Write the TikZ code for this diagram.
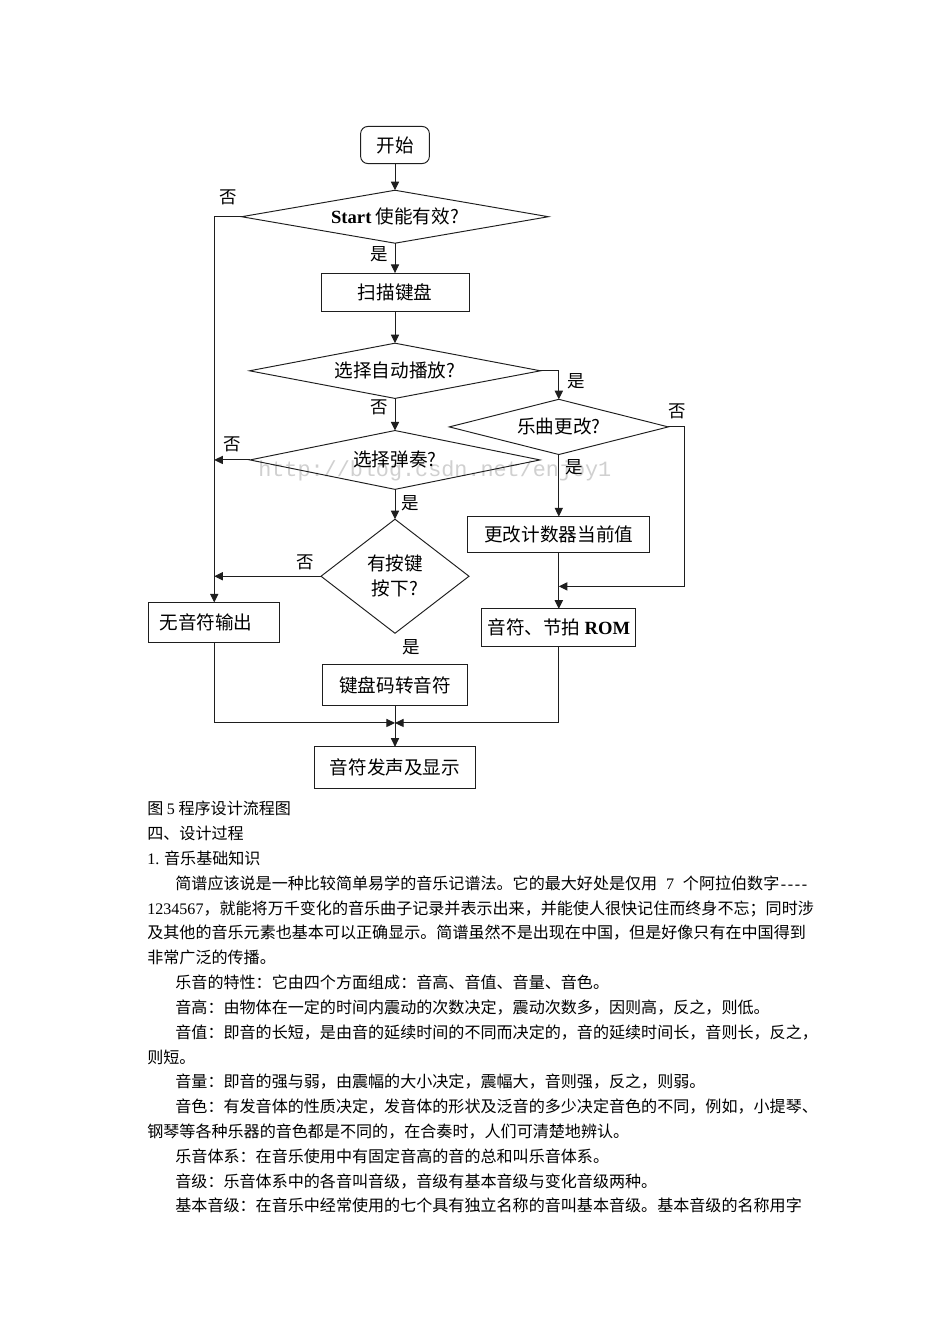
\documentclass[tikz,border=0pt]{standalone}
\usepackage{fontspec}
\setmainfont{Noto Sans CJK SC}
\newfontfamily\tms{Liberation Serif}
\newfontfamily\wmfont{Liberation Mono}
\usepackage{tikz}
\usetikzlibrary{shapes.geometric, arrows.meta, positioning, calc}
\definecolor{flow-line}{RGB}{30,30,30}
\definecolor{wm-gray}{RGB}{208,208,208}
\XeTeXlinebreaklocale "zh"
\XeTeXlinebreakskip=0pt plus 1pt minus 0.4pt
\newcommand{\fullline}[2][0mm]{\hspace*{#1}\makebox[\dimexpr145.4mm-#1\relax][s]{#2}}

\begin{document}
\begin{tikzpicture}[
    x=0.221mm, y=-0.221mm,
    >={Triangle[length=1.9mm,width=1.8mm]},
    flow/.style={draw=flow-line, line width=0.6pt},
    startbox/.style={rectangle, draw=flow-line, line width=0.6pt, rounded corners=1.6mm, minimum width=15.2mm, minimum height=8.2mm, inner sep=0pt, outer sep=0pt, font=\fontsize{11.7pt}{14pt}\selectfont},
    procbox/.style={rectangle, draw=flow-line, line width=0.6pt, inner sep=0pt, outer sep=0pt, font=\fontsize{11.7pt}{14pt}\selectfont},
    decision/.style={diamond, draw=flow-line, line width=0.6pt, aspect=4, inner sep=0pt, outer sep=0pt, font=\fontsize{11.7pt}{15.7pt}\selectfont},
    yesno/.style={inner sep=0pt, font=\fontsize{11pt}{13pt}\selectfont},
]

% Page
\fill[white] (0,0) rectangle (950,1344);

% Watermark
\node[anchor=base west, inner sep=0pt, text=wm-gray, font=\wmfont\fontsize{13.7pt}{16pt}\selectfont] (wm) at (258,476) {http://blog.csdn.net/enjoy1};

% Main column
\node[startbox] (start) at (395,145) {开始};
\node[decision, minimum width=67.8mm, minimum height=11.7mm, below=5.9mm of start] (enable) {{\tms\bfseries Start} 使能有效?};
\node[procbox, minimum width=32.7mm, minimum height=8.4mm, below=6.6mm of enable] (scan) {扫描键盘};
\node[decision, minimum width=64.3mm, minimum height=12.2mm, below=7.1mm of scan] (auto) {选择自动播放?};
\node[decision, minimum width=64.1mm, minimum height=13mm, below=7.1mm of auto] (play) {选择弹奏?};
\node[decision, aspect=1.3, align=center, minimum width=32.7mm, minimum height=25.2mm, below=6.6mm of play] (key) {有按键\\按下?};
\node[procbox, minimum width=32mm, minimum height=9.1mm, below=6.9mm of key] (code) {键盘码转音符};
\node[procbox, minimum width=35.4mm, minimum height=9.1mm, below=9.1mm of code] (sound) {音符发声及显示};

% Side branches
\node[decision, minimum width=48.4mm, minimum height=12.2mm, below=0.2mm of auto, xshift=36.2mm] (change) {乐曲更改?};
\node[procbox, minimum width=40.2mm, minimum height=8mm, below=13.7mm of change] (counter) {更改计数器当前值};
\node[procbox, minimum width=34mm, minimum height=8.4mm, below=12.4mm of counter] (rom) {音符、节拍 {\tms\bfseries ROM}};
\node[procbox, minimum width=29mm, minimum height=8.8mm, text width=24.2mm, align=left, left=9.1mm of key, yshift=-10.2mm] (silent) {无音符输出};

% Junctions
\coordinate (rrail) at ($(change.east)+(3.5mm,0)$);
\coordinate (rjoin) at ($(counter.south)!0.6!(rom.north)$);
\coordinate (merge) at ($(code.south)!0.42!(sound.north)$);

% Connectors
\draw[flow, ->] (start) -- (enable);
\draw[flow, ->] (enable) -- (scan);
\draw[flow, ->] (scan) -- (auto);
\draw[flow, ->] (auto) -- (play);
\draw[flow, ->] (play) -- (key);
\draw[flow, ->] (code) -- (sound);
\draw[flow, ->] (enable.west) -| (silent.north);
\draw[flow, ->] (play.west) -- (play.west -| silent.north);
\draw[flow, ->] (key.west) -- (key.west -| silent.north);
\draw[flow, ->] (auto.east) -| (change.north);
\draw[flow, ->] (change) -- (counter);
\draw[flow, ->] (counter) -- (rom);
\draw[flow, ->] (change.east) -- (rrail) |- (rjoin);
\draw[flow, ->] (silent.south) |- (merge);
\draw[flow, ->] (rom.south) |- (merge);

% Yes / no marks
\node[yesno] (n1) at ([shift={(-2.9mm,4.2mm)}]enable.west) {否};
\node[yesno] (y1) at ([shift={(-3.5mm,-2.4mm)}]enable.south) {是};
\node[yesno] (y2) at ([shift={(3.8mm,4mm)}]change.north) {是};
\node[yesno] (n2) at ([shift={(-3.5mm,-2mm)}]auto.south) {否};
\node[yesno] (n3) at ([shift={(-4mm,3.5mm)}]play.west) {否};
\node[yesno] (n4) at ([shift={(2mm,3.5mm)}]change.east) {否};
\node[yesno] (y3) at ([shift={(3.5mm,-2.7mm)}]change.south) {是};
\node[yesno] (y4) at ([shift={(3.3mm,-3.1mm)}]play.south) {是};
\node[yesno] (n5) at ([shift={(-3.5mm,3.1mm)}]key.west) {否};
\node[yesno] (y5) at ([shift={(3.5mm,-3.1mm)}]key.south) {是};

% Body text
\node[anchor=north west, inner sep=0pt, align=left, font=\fontsize{10.1pt}{15.6pt}\selectfont] (body) at (147,801) {%
图 {\tms 5} 程序设计流程图\\
四、设计过程\\
{\tms 1.} 音乐基础知识\\
\fullline[6.2mm]{简谱应该说是一种比较简单易学的音乐记谱法。它的最大好处是仅用\hspace{0.55em}{\tms 7}\hspace{0.55em}个阿拉伯数字{\tms\hspace{0.1em}-\hspace{0.1em}-\hspace{0.1em}-\hspace{0.1em}-}}\\
\fullline{{\tms 1234567}，就能将万千变化的音乐曲子记录并表示出来，并能使人很快记住而终身不忘；同时涉}\\
\fullline{及其他的音乐元素也基本可以正确显示。简谱虽然不是出现在中国，但是好像只有在中国得到}\\
非常广泛的传播。\\
\hspace*{6.2mm}乐音的特性：它由四个方面组成：音高、音值、音量、音色。\\
\hspace*{6.2mm}音高：由物体在一定的时间内震动的次数决定，震动次数多，因则高，反之，则低。\\
\fullline[6.2mm]{音值：即音的长短，是由音的延续时间的不同而决定的，音的延续时间长，音则长，反之，}\\
则短。\\
\hspace*{6.2mm}音量：即音的强与弱，由震幅的大小决定，震幅大，音则强，反之，则弱。\\
\fullline[6.2mm]{音色：有发音体的性质决定，发音体的形状及泛音的多少决定音色的不同，例如，小提琴、}\\
钢琴等各种乐器的音色都是不同的，在合奏时，人们可清楚地辨认。\\
\hspace*{6.2mm}乐音体系：在音乐使用中有固定音高的音的总和叫乐音体系。\\
\hspace*{6.2mm}音级：乐音体系中的各音叫音级，音级有基本音级与变化音级两种。\\
\hspace*{6.2mm}基本音级：在音乐中经常使用的七个具有独立名称的音叫基本音级。基本音级的名称用字};

\end{tikzpicture}
\end{document}
